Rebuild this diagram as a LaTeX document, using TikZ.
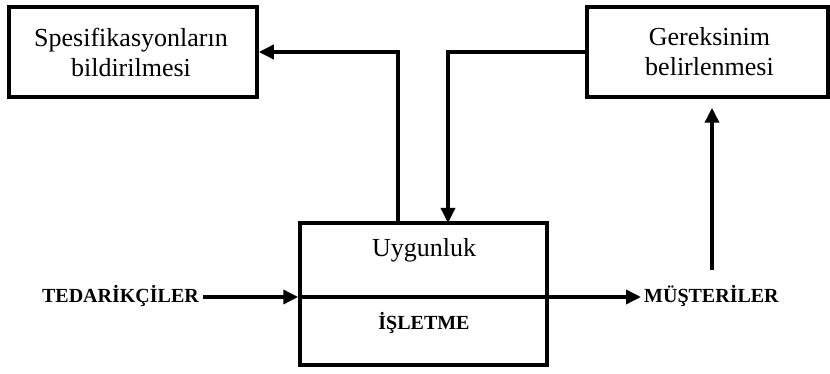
\documentclass[tikz,border=0pt]{standalone}
\usepackage{fontspec}
\setmainfont{Liberation Serif}
\usetikzlibrary{arrows.meta}
\begin{document}
\begin{tikzpicture}[x=1pt,y=-1pt,
  box/.style={draw,line width=3.5pt,rectangle,inner sep=0pt},
  boxtext/.style={align=center,font=\fontsize{26}{30}\selectfont},
  capslabel/.style={font=\fontsize{20}{24}\selectfont\bfseries,inner sep=0pt},
  flow/.style={line width=3.5pt,-{Triangle[length=15pt,width=14pt]}},
  plain/.style={line width=3.5pt}]
\useasboundingbox (0,0) rectangle (830,374);

% upper boxes
\node[box,minimum width=248pt,minimum height=90pt] (spec) at (133,52) {};
\node[boxtext] at ([xshift=-2pt]spec.center) {Spesifikasyonların\\bildirilmesi};
\node[box,minimum width=241pt,minimum height=90pt] (need) at (707.5,52) {};
\node[boxtext] at ([xshift=2pt]need.center) {Gereksinim\\belirlenmesi};

% central box with its dividing line
\node[box,minimum width=247pt,minimum height=142pt] (core) at (423.5,294) {};
\draw[plain] (core.west |- 0,297) coordinate (midW) -- (core.east |- 0,297) coordinate (midE);
\node[font=\fontsize{26}{30}\selectfont] (fit) at (424,250) {Uygunluk};
\node[capslabel] (ops) at (424,323) {İŞLETME};

% supplier and customer labels
\node[capslabel,anchor=east] (sup) at (199,296) {TEDARİKÇİLER};
\node[capslabel,anchor=west] (cus) at (644,296) {MÜŞTERİLER};

% connectors
\coordinate (coreT1) at (398,223);
\coordinate (coreT2) at (448,223);
\coordinate (rise) at (712,270);
\draw[flow] (coreT1) |- (spec.east);
\draw[flow] (need.west) -| (coreT2);
\draw[flow] ([xshift=4pt]sup.east |- midW) -- (midW);
\draw[flow] (midE) -- ([xshift=-3pt]cus.west |- midE);
\draw[flow,shorten >=9pt] (rise) -- (rise |- need.south);
\end{tikzpicture}
\end{document}
